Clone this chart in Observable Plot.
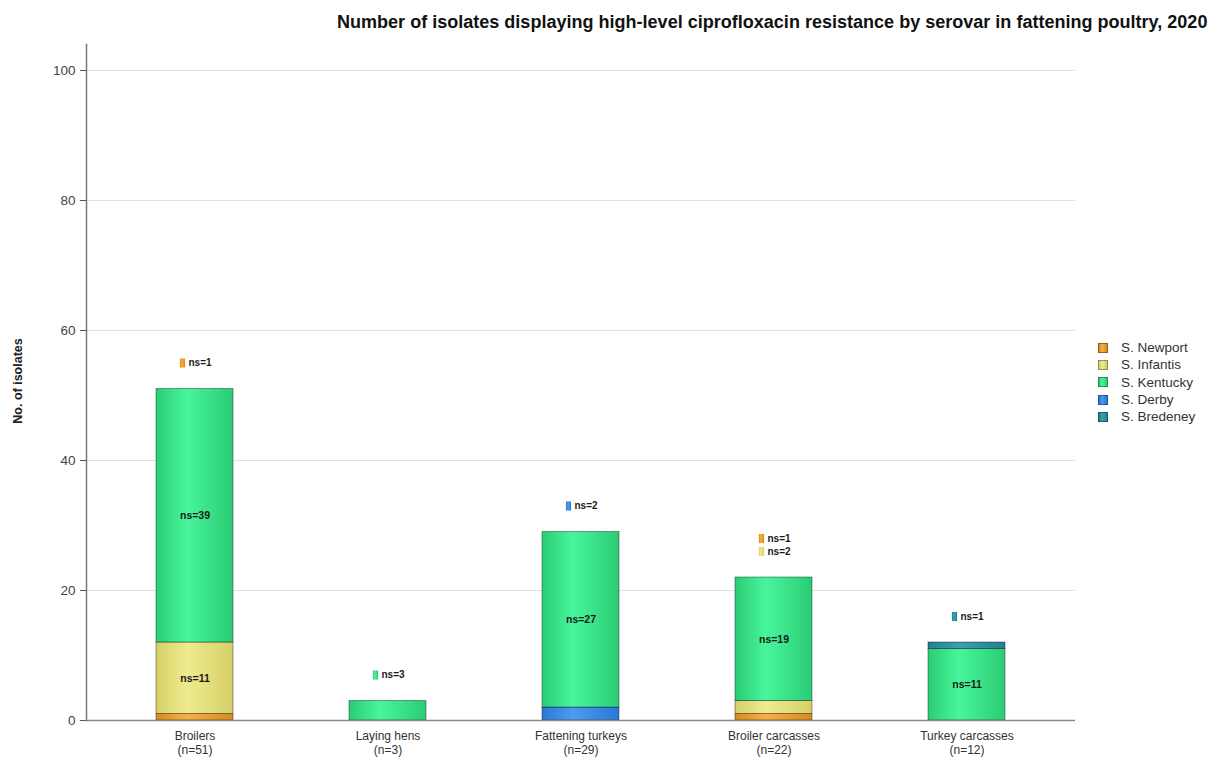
<!DOCTYPE html>
<html>
<head>
<meta charset="utf-8">
<script src="https://cdn.jsdelivr.net/npm/d3@7"></script>
<script src="https://cdn.jsdelivr.net/npm/@observablehq/plot@0.6"></script>
<style>
  html, body { margin: 0; padding: 0; background: #fff; }
  body { font-family: "Liberation Sans", Arial, Helvetica, sans-serif; }
  #wrap { position: relative; width: 1212px; height: 760px; overflow: hidden; }
  #title { position: absolute; left: 337px; top: 22px; transform: translateY(-50%); font-size: 17px; font-weight: bold; color: #111; white-space: nowrap; line-height: 1; }
  #ylabel { position: absolute; left: 18px; top: 381px; transform: translate(-50%, -50%) rotate(-90deg); font-size: 12.5px; font-weight: bold; color: #222; white-space: nowrap; }
  #legend { position: absolute; left: 1098px; top: 339px; font-size: 13.5px; color: #333; }
  #legend .item { display: flex; align-items: center; height: 17.3px; }
  #legend .sw { width: 10px; height: 10px; margin-right: 13px; box-sizing: border-box; border: 1px solid rgba(0,0,0,0.35); }
  #chart { position: absolute; left: 0; top: 0; }
</style>
</head>
<body>
<div id="wrap">
  <div id="chart"></div>
  <div id="title"></div>
  <div id="ylabel"></div>
  <div id="legend"></div>
</div>
<script>
// ---- Data ----
const titleText = "Number of isolates displaying high-level ciprofloxacin resistance by serovar in fattening poultry, 2020";
const yLabel = "No. of isolates";
const categories = ["Broilers", "Laying hens", "Fattening turkeys", "Broiler carcasses", "Turkey carcasses"];
const totals = [51, 3, 29, 22, 12];
const serovars = ["S. Newport", "S. Infantis", "S. Kentucky", "S. Derby", "S. Bredeney"];
const newport  = [1, 0, 0, 1, 0];
const infantis = [11, 0, 0, 2, 0];
const kentucky = [39, 3, 27, 19, 11];
const derby    = [0, 0, 2, 0, 0];
const bredeney = [0, 0, 0, 0, 1];
const stackOrder = ["S. Newport", "S. Infantis", "S. Derby", "S. Kentucky", "S. Bredeney"];
const yTicks = [0, 20, 40, 60, 80, 100];
// gradient colours per serovar: [edge, centre]
const serovarColors = {
  "S. Newport":  ["#d98a1c", "#f7b046"],
  "S. Infantis": ["#d6cf68", "#efeb8e"],
  "S. Kentucky": ["#2bcc74", "#48f59c"],
  "S. Derby":    ["#2a78d6", "#4a9cf0"],
  "S. Bredeney": ["#22808f", "#3aa0b0"]
};

// ---- Build long table ----
const seriesBy = {"S. Newport": newport, "S. Infantis": infantis, "S. Kentucky": kentucky, "S. Derby": derby, "S. Bredeney": bredeney};
const rows = [];
categories.forEach((c, i) => {
  stackOrder.forEach(s => {
    const v = seriesBy[s][i];
    if (v > 0) rows.push({category: c, serovar: s, value: v});
  });
});
const insideMin = 5;
// labels above bars for small segments, reverse stack order so first is on top
const outside = [];
categories.forEach((c, i) => {
  const small = stackOrder.filter(s => seriesBy[s][i] > 0 && seriesBy[s][i] < insideMin);
  small.slice().reverse().forEach((s, k) => {
    outside.push({category: c, serovar: s, value: seriesBy[s][i], pos: totals[i] + 4 + 2 * k});
  });
});

const gradIds = serovars.map((s, i) => "grad" + i);

const tallSquare = {
  draw(ctx, size) { const w = 2.6, h = 4.6; ctx.rect(-w, -h, 2 * w, 2 * h); }
};

const chart = Plot.plot({
  width: 1212,
  height: 760,
  marginLeft: 86,
  marginRight: 137,
  marginTop: 44,
  marginBottom: 40,
  style: {fontFamily: '"Liberation Sans", Arial, Helvetica, sans-serif', background: "transparent"},
  x: {domain: categories, paddingInner: 0.6, paddingOuter: 0.36, label: null},
  y: {domain: [0, 104], label: null},
  color: {domain: serovars, range: gradIds.map(id => `url(#${id})`)},
  marks: [
    Plot.gridY(yTicks.slice(1), {stroke: "#e2e2e2", strokeOpacity: 1, strokeWidth: 1}),
    Plot.barY(rows, {x: "category", y: "value", fill: "serovar", order: stackOrder,
      stroke: "rgba(0,0,0,0.38)", strokeWidth: 1}),
    Plot.text(rows, Plot.stackY({x: "category", y: "value", z: "serovar", order: stackOrder,
      text: d => d.value >= insideMin ? `ns=${d.value}` : null,
      fontSize: 10.5, fontWeight: "bold", fill: "#1a1a1a"})),
    Plot.dot(outside, {x: "category", y: "pos", fill: "serovar", symbol: tallSquare, r: 4, dx: -12.5, stroke: null}),
    Plot.text(outside, {x: "category", y: "pos", text: d => `ns=${d.value}`, textAnchor: "start", dx: -6.5,
      fontSize: 10, fontWeight: "bold", fill: "#1a1a1a"}),
    Plot.ruleY([0], {stroke: "#888", strokeWidth: 1.5}),
    Plot.frame({anchor: "left", stroke: "#777", strokeWidth: 1.5}),
    Plot.axisY({ticks: yTicks, tickSize: 6, tickPadding: 5, fontSize: 13.5, color: "#444", stroke: "#555", label: null}),
    Plot.axisX({tickSize: 0, tickPadding: 9, fontSize: 12, color: "#333", lineHeight: 1.2, label: null,
      tickFormat: d => `${d}\n(n=${totals[categories.indexOf(d)]})`})
  ]
});

// gradient defs
const defs = serovars.map((s, i) => {
  const [edge, centre] = serovarColors[s];
  return `<linearGradient id="${gradIds[i]}" x1="0" x2="1" y1="0" y2="0">
    <stop offset="0%" stop-color="${edge}"/>
    <stop offset="40%" stop-color="${centre}"/>
    <stop offset="100%" stop-color="${edge}"/>
  </linearGradient>`;
}).join("");
chart.insertAdjacentHTML("afterbegin", `<defs>${defs}</defs>`);
document.getElementById("chart").appendChild(chart);

const titleEl = document.getElementById("title");
titleEl.textContent = titleText;
// fit title to span the same width as in the reference
const targetW = 871;
const w0 = titleEl.getBoundingClientRect().width;
if (w0 > 0) titleEl.style.fontSize = (17 * targetW / w0).toFixed(2) + "px";

document.getElementById("ylabel").textContent = yLabel;
const legend = document.getElementById("legend");
serovars.forEach(s => {
  const [edge, centre] = serovarColors[s];
  const item = document.createElement("div");
  item.className = "item";
  const sw = document.createElement("span");
  sw.className = "sw";
  sw.style.background = `linear-gradient(to right, ${edge}, ${centre} 40%, ${edge})`;
  const lab = document.createElement("span");
  lab.textContent = s;
  item.appendChild(sw);
  item.appendChild(lab);
  legend.appendChild(item);
});
</script>
</body>
</html>
